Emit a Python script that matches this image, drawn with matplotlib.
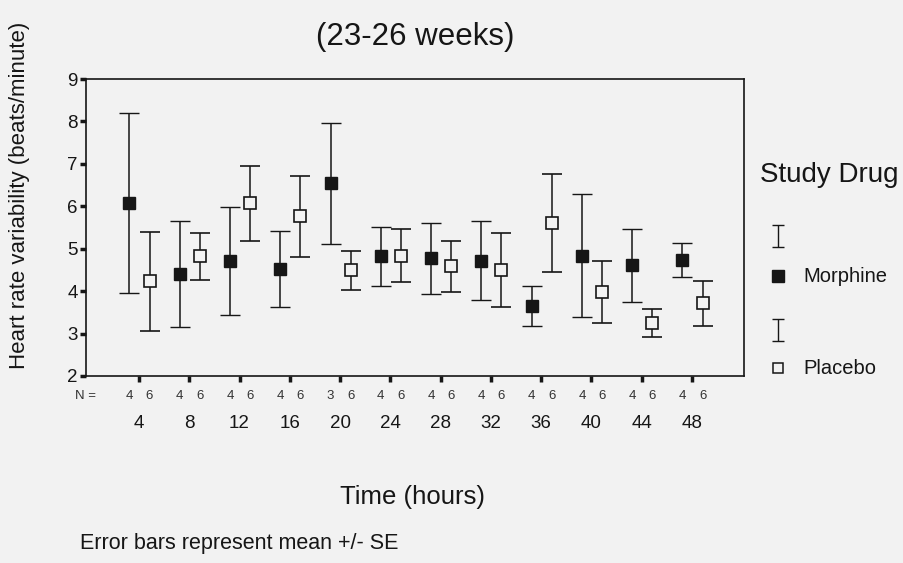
import numpy as np
import matplotlib
matplotlib.use("Agg")
import matplotlib.pyplot as plt
from matplotlib.transforms import blended_transform_factory

plt.rcParams['font.family'] = ['Liberation Sans', 'DejaVu Sans']

# heart rate variability, mean and SE per 4-hour time point
hours = [4, 8, 12, 16, 20, 24, 28, 32, 36, 40, 44, 48]
n_morphine = [4, 4, 4, 4, 3, 4, 4, 4, 4, 4, 4, 4]
n_placebo = [6, 6, 6, 6, 6, 6, 6, 6, 6, 6, 6, 6]
morphine_mean = [6.08, 4.41, 4.71, 4.52, 6.54, 4.82, 4.77, 4.72, 3.65, 4.84, 4.61, 4.74]
morphine_se = [2.13, 1.25, 1.28, 0.90, 1.43, 0.70, 0.84, 0.93, 0.46, 1.46, 0.86, 0.40]
placebo_mean = [4.23, 4.82, 6.07, 5.76, 4.49, 4.84, 4.59, 4.49, 5.60, 3.98, 3.25, 3.71]
placebo_se = [1.16, 0.56, 0.89, 0.95, 0.46, 0.62, 0.60, 0.87, 1.16, 0.74, 0.32, 0.52]

bg = '#f2f2f2'
ink = '#161616'

fig = plt.figure(figsize=(9.04, 5.63), dpi=100, facecolor=bg)
ax = fig.add_axes([86/904, 1-376/563, 658/904, 297/563], facecolor=bg)

pos = np.arange(1, len(hours)+1)
off_m, off_p = -0.19, 0.21

ax.errorbar(pos+off_m, morphine_mean, yerr=morphine_se, fmt='s', color=ink,
            mfc=ink, mec=ink, ms=8.3, mew=1, capsize=7.5, elinewidth=1.1,
            capthick=1.1, zorder=3)
ax.errorbar(pos+off_p, placebo_mean, yerr=placebo_se, fmt='s', color=ink,
            mfc=bg, mec=ink, ms=8.2, mew=1.2, capsize=7.5, elinewidth=1.1,
            capthick=1.1, zorder=3)

ax.set_xlim(1 - 53/50.3, 12 + 52/50.3)
ax.set_ylim(2, 9)
ax.set_yticks(range(2, 10))
ax.set_xticks(pos)
ax.set_xticklabels(hours)
ax.tick_params(axis='both', direction='out', length=4, width=2.5, color=ink,
               labelcolor=ink, labelsize=13.5)
ax.tick_params(axis='x', pad=24)
ax.tick_params(axis='y', pad=2)
for s in ax.spines.values():
    s.set_linewidth(1.2)
    s.set_color(ink)

# group sizes under each pair
trans = blended_transform_factory(ax.transData, ax.transAxes)
for p, nm, npl in zip(pos, n_morphine, n_placebo):
    ax.text(p+off_m, -0.067, str(nm), transform=trans, ha='center', va='center',
            fontsize=9.5, color='#333333')
    ax.text(p+off_p, -0.067, str(npl), transform=trans, ha='center', va='center',
            fontsize=9.5, color='#333333')
ax.text(0.015, -0.067, 'N =', transform=ax.transAxes, ha='right', va='center',
        fontsize=9.5, color='#333333')

fig.text(415/904, 1-37/563, '(23-26 weeks)', ha='center', va='center',
         fontsize=22.5, color=ink)
fig.text(20/904, 1-195/563, 'Heart rate variability (beats/minute)', rotation=90,
         ha='center', va='center', fontsize=16, color=ink)
fig.text(413/904, 1-497/563, 'Time (hours)', ha='center', va='center',
         fontsize=18.5, color=ink)
fig.text(80/904, 1-543/563, 'Error bars represent mean +/- SE', ha='left',
         va='center', fontsize=15.5, color=ink)

# legend panel, laid out in pixel units
leg = fig.add_axes([0, 0, 1, 1], facecolor='none')
leg.set_xlim(0, 904)
leg.set_ylim(563, 0)
leg.axis('off')
leg.text(760, 175, 'Study Drug', fontsize=20, ha='left', va='center', color=ink)
leg.errorbar([778], [236], yerr=[11], fmt='none', ecolor=ink, elinewidth=1,
             capsize=4, capthick=1)
leg.plot([778], [276], 's', color=ink, ms=8)
leg.text(803, 276, 'Morphine', fontsize=14.5, ha='left', va='center', color=ink)
leg.errorbar([778], [330], yerr=[11], fmt='none', ecolor=ink, elinewidth=1,
             capsize=4, capthick=1)
leg.plot([778], [368], 's', mfc=bg, mec=ink, ms=7.2, mew=1.1)
leg.text(803, 368, 'Placebo', fontsize=14.5, ha='left', va='center', color=ink)

fig.savefig('out.png', dpi=100, facecolor=bg)
